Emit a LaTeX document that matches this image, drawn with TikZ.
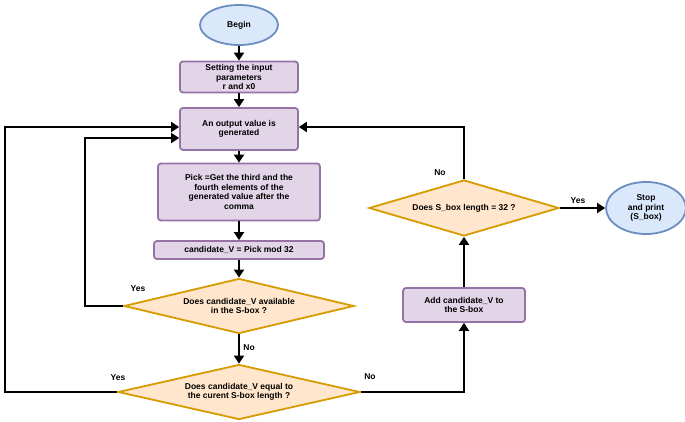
\documentclass[tikz,border=0pt]{standalone}
\usepackage{fontspec}
\setmainfont{Liberation Sans}
\usetikzlibrary{shapes.geometric,arrows.meta}
\definecolor{pf}{HTML}{E1D5E7}\definecolor{pb}{HTML}{9673A6}
\definecolor{of}{HTML}{FFE6CC}\definecolor{ob}{HTML}{D79B00}
\definecolor{bf}{HTML}{DAE8FC}\definecolor{bb}{HTML}{6C8EBF}
\begin{document}
\begin{tikzpicture}[x=1pt,y=-1pt,
  txt/.style={font=\fontsize{8.5}{9.5}\selectfont\bfseries,align=center},
  box/.style={txt,draw=pb,fill=pf,line width=1.8pt,rounded corners=3pt,inner sep=1pt},
  dia/.style={txt,draw=ob,fill=of,line width=1.8pt,diamond,aspect=4.2,inner sep=0pt},
  ell/.style={txt,draw=bb,fill=bf,line width=1.8pt,ellipse,inner sep=0pt},
  arr/.style={line width=2.2pt,-{Triangle[length=8pt,width=10pt]}},
  lab/.style={font=\fontsize{8.5}{9.5}\selectfont\bfseries}]
\useasboundingbox (0,0) rectangle (685,422);
\node[ell,minimum width=78,minimum height=40] (begin) at (239,25) {Begin};
\node[box,minimum width=118,minimum height=31] (set) at (239,77) {Setting the input\\parameters\\r and x0};
\node[box,minimum width=118,minimum height=42] (out) at (239,129) {An output value is\\generated};
\node[box,minimum width=162,minimum height=57] (pick) at (239,192) {Pick =Get the third and the\\fourth elements of the\\generated value after the\\comma};
\node[box,minimum width=170,minimum height=18] (cand) at (239,250) {candidate\_V = Pick mod 32};
\node[dia,minimum width=230,minimum height=55] (d1) at (239,306) {Does candidate\_V available\\in the S-box ?};
\node[dia,minimum width=242,minimum height=55] (d2) at (239,392) {Does candidate\_V equal to\\the curent S-box length ?};
\node[dia,minimum width=190,minimum height=56] (d3) at (464,208) {Does S\_box length = 32 ?};
\node[box,minimum width=122,minimum height=34] (add) at (464,305) {Add candidate\_V to\\the S-box};
\node[ell,minimum width=80,minimum height=52] (stop) at (646,208) {Stop\\and print\\(S\_box)};
\draw[arr] (begin) -- (set);
\draw[arr] (set) -- (out);
\draw[arr] (out) -- (pick);
\draw[arr] (pick) -- (cand);
\draw[arr] (cand) -- (d1);
\draw[arr] (d1) -- node[lab,right,pos=0.45]{No} (d2);
\coordinate (c1) at (85,138);
\draw[arr] (d1.west) -| (c1) -- (out.west |- c1);
\node[lab] at (138,289) {Yes};
\coordinate (c2) at (5,127);
\draw[arr] (d2.west) -| (c2) -- (out.west |- c2);
\node[lab] at (118,378) {Yes};
\draw[arr] (d2.east) -| (add.south);
\node[lab] at (370,377) {No};
\draw[arr] (add) -- (d3.south);
\coordinate (c3) at (d3.north |- 0,127);
\draw[arr] (d3.north) -- (c3) -- (out.east |- c3);
\node[lab] at (440,173) {No};
\draw[arr] (d3.east) -- node[lab,above,pos=0.4]{Yes} (stop);
\end{tikzpicture}
\end{document}
